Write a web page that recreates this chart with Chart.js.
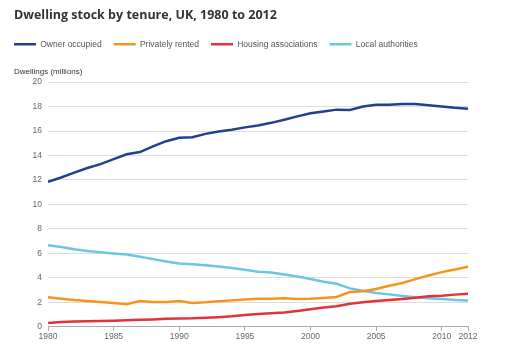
<!DOCTYPE html>
<html>
<head>
<meta charset="utf-8">
<script src="https://cdn.jsdelivr.net/npm/chart.js@4.4.0/dist/chart.umd.min.js"></script>
<style>
  html, body { margin: 0; padding: 0; background: #fff; }
</style>
</head>
<body>
<canvas id="tenureChart" width="506" height="351"></canvas>
<script>
// Years on the x axis
const years = [1980, 1981, 1982, 1983, 1984, 1985, 1986, 1987, 1988, 1989, 1990,
    1991, 1992, 1993, 1994, 1995, 1996, 1997, 1998, 1999, 2000, 2001, 2002,
    2003, 2004, 2005, 2006, 2007, 2008, 2009, 2010, 2011, 2012];

// Dwellings, millions
const ownerOccupied = [11.84, 12.2, 12.6, 12.98, 13.3, 13.7, 14.1, 14.28, 14.74, 15.17, 15.45,
    15.5, 15.77, 15.96, 16.1, 16.3, 16.45, 16.67, 16.93, 17.2, 17.45, 17.6, 17.75,
    17.72, 18.0, 18.15, 18.15, 18.2, 18.2, 18.1, 18.0, 17.9, 17.83];
const privatelyRented = [2.41, 2.3, 2.19, 2.11, 2.03, 1.95, 1.84, 2.11, 2.03, 2.03, 2.11,
    1.95, 2.0, 2.08, 2.16, 2.24, 2.3, 2.3, 2.33, 2.28, 2.3, 2.36, 2.44,
    2.85, 2.9, 3.09, 3.36, 3.58, 3.9, 4.2, 4.47, 4.68, 4.9];
const housingAssociations = [0.32, 0.4, 0.43, 0.46, 0.47, 0.5, 0.53, 0.57, 0.6, 0.65, 0.68,
    0.69, 0.73, 0.79, 0.86, 0.97, 1.05, 1.1, 1.16, 1.3, 1.43, 1.57, 1.68,
    1.89, 2.0, 2.11, 2.19, 2.28, 2.38, 2.49, 2.54, 2.63, 2.71];
const localAuthorities = [6.67, 6.53, 6.34, 6.2, 6.1, 6.0, 5.9, 5.72, 5.53, 5.34, 5.17,
    5.12, 5.04, 4.93, 4.8, 4.66, 4.5, 4.44, 4.28, 4.11, 3.9, 3.68, 3.52,
    3.14, 2.95, 2.76, 2.65, 2.52, 2.41, 2.33, 2.27, 2.19, 2.14];

// Tick labels
const yearTicks = [1980, 1985, 1990, 1995, 2000, 2005, 2010, 2012];

const seriesNames = ['Owner occupied', 'Privately rented', 'Housing associations', 'Local authorities'];
const seriesColors = ['#23408f', '#f7941d', '#e3323b', '#6cc6e2'];
const seriesValues = [ownerOccupied, privatelyRented, housingAssociations, localAuthorities];

const FONT = "'Liberation Sans', Arial, sans-serif";

// Le legende de Chart.js ajoute le padding a gauche : on la recale sur le titre
const legendShift = {
    id: 'legendShift',
    afterLayout(chart) {
        chart.legend.left -= 12;
        chart.legend.right -= 12;
    }
};

const ctx = document.getElementById('tenureChart').getContext('2d');

new Chart(ctx, {
    type: 'line',
    data: {
        datasets: seriesNames.map((name, i) => ({
            label: name,
            data: years.map((yr, j) => ({ x: yr, y: seriesValues[i][j] })),
            borderColor: seriesColors[i],
            backgroundColor: seriesColors[i],
            borderWidth: 2.5,
            pointRadius: 0,
            tension: 0,
            fill: false
        }))
    },
    options: {
        responsive: false,
        animation: false,
        layout: {
            padding: { left: 14, right: 38, top: 0, bottom: 8 }
        },
        plugins: {
            title: {
                display: true,
                text: 'Dwelling stock by tenure, UK, 1980 to 2012',
                align: 'start',
                color: '#333',
                font: { family: "'Open Sans', sans-serif", size: 12.5, weight: 'bold' },
                padding: { top: 8, bottom: 5 }
            },
            legend: {
                display: true,
                position: 'top',
                align: 'start',
                labels: {
                    usePointStyle: true,
                    pointStyle: 'line',
                    pointStyleWidth: 22,
                    padding: 12,
                    color: '#555',
                    font: { family: FONT, size: 8.5 }
                }
            },
            subtitle: {
                display: true,
                text: 'Dwellings (millions)',
                align: 'start',
                color: '#333',
                weight: 500, // sous la legende
                font: { family: FONT, size: 8 },
                padding: { top: 8, bottom: 6 }
            },
            tooltip: { enabled: false }
        },
        scales: {
            x: {
                type: 'linear',
                min: 1980,
                max: 2012,
                afterBuildTicks: function(scale) {
                    scale.ticks = yearTicks.map(v => ({ value: v }));
                },
                ticks: {
                    autoSkip: false,
                    maxRotation: 0,
                    padding: 1,
                    color: '#666',
                    font: { family: FONT, size: 8.5 },
                    callback: function(value) {
                        return String(value);
                    }
                },
                grid: {
                    drawOnChartArea: false,
                    drawTicks: true,
                    tickLength: 4,
                    color: '#aaa'
                },
                border: { display: true, color: '#aaa', width: 1 }
            },
            y: {
                min: 0,
                max: 20,
                afterFit: function(scale) {
                    scale.width = 34;
                },
                ticks: {
                    stepSize: 2,
                    padding: 6,
                    color: '#666',
                    font: { family: FONT, size: 8.5 }
                },
                grid: {
                    drawTicks: false,
                    color: '#ddd'
                },
                border: { display: false }
            }
        }
    },
    plugins: [legendShift]
});
</script>
</body>
</html>
